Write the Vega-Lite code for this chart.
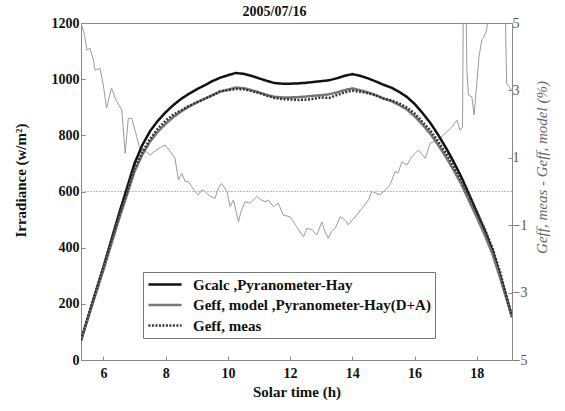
{
  "$schema": "https://vega.github.io/schema/vega-lite/v6.json",
  "autosize": {"type": "none"},
  "width": 431,
  "height": 337,
  "padding": {"left": 81, "top": 23, "right": 53, "bottom": 51},
  "background": "white",
  "title": {"text": "2005/07/16", "font": "Liberation Serif", "fontSize": 14, "fontWeight": "bold", "color": "#111", "offset": 8, "anchor": "middle", "frame": "group", "dx": -22, "dy": 11},
  "config": {
    "view": {"stroke": "#888", "strokeWidth": 1},
    "axis": {"labelFont": "Liberation Serif", "titleFont": "Liberation Serif", "grid": false, "domainColor": "#888", "tickColor": "#888"}
  },
  "datasets": {
    "irr": [
      {"h": 5.28, "calc": 70, "model": 69, "meas": 72},
      {"h": 5.5, "calc": 150, "model": 147, "meas": 153},
      {"h": 5.75, "calc": 240, "model": 234, "meas": 242},
      {"h": 6.0, "calc": 330, "model": 320, "meas": 330},
      {"h": 6.25, "calc": 425, "model": 411, "meas": 423},
      {"h": 6.5, "calc": 520, "model": 501, "meas": 514},
      {"h": 6.75, "calc": 610, "model": 586, "meas": 595},
      {"h": 7.0, "calc": 700, "model": 671, "meas": 684},
      {"h": 7.25, "calc": 765, "model": 731, "meas": 740},
      {"h": 7.5, "calc": 815, "model": 778, "meas": 787},
      {"h": 7.75, "calc": 852, "model": 813, "meas": 824},
      {"h": 8.0, "calc": 882, "model": 841, "meas": 852},
      {"h": 8.25, "calc": 908, "model": 865, "meas": 874},
      {"h": 8.5, "calc": 930, "model": 885, "meas": 889},
      {"h": 8.75, "calc": 948, "model": 902, "meas": 905},
      {"h": 9.0, "calc": 964, "model": 917, "meas": 917},
      {"h": 9.25, "calc": 978, "model": 930, "meas": 930},
      {"h": 9.5, "calc": 993, "model": 943, "meas": 942},
      {"h": 9.75, "calc": 1005, "model": 955, "meas": 957},
      {"h": 10.0, "calc": 1014, "model": 963, "meas": 961},
      {"h": 10.25, "calc": 1022, "model": 970, "meas": 965},
      {"h": 10.5, "calc": 1019, "model": 968, "meas": 964},
      {"h": 10.75, "calc": 1012, "model": 961, "meas": 958},
      {"h": 11.0, "calc": 1003, "model": 953, "meas": 951},
      {"h": 11.25, "calc": 994, "model": 944, "meas": 941},
      {"h": 11.5, "calc": 986, "model": 937, "meas": 933},
      {"h": 11.75, "calc": 984, "model": 935, "meas": 929},
      {"h": 12.0, "calc": 984, "model": 935, "meas": 928},
      {"h": 12.25, "calc": 985, "model": 936, "meas": 926},
      {"h": 12.5, "calc": 987, "model": 938, "meas": 927},
      {"h": 12.75, "calc": 990, "model": 941, "meas": 930},
      {"h": 13.0, "calc": 993, "model": 943, "meas": 935},
      {"h": 13.25, "calc": 996, "model": 946, "meas": 933},
      {"h": 13.5, "calc": 1003, "model": 953, "meas": 943},
      {"h": 13.75, "calc": 1012, "model": 961, "meas": 953},
      {"h": 14.0, "calc": 1018, "model": 967, "meas": 959},
      {"h": 14.25, "calc": 1012, "model": 961, "meas": 955},
      {"h": 14.5, "calc": 1003, "model": 953, "meas": 950},
      {"h": 14.75, "calc": 992, "model": 943, "meas": 943},
      {"h": 15.0, "calc": 980, "model": 931, "meas": 931},
      {"h": 15.25, "calc": 970, "model": 922, "meas": 924},
      {"h": 15.5, "calc": 955, "model": 908, "meas": 914},
      {"h": 15.75, "calc": 937, "model": 892, "meas": 899},
      {"h": 16.0, "calc": 912, "model": 868, "meas": 878},
      {"h": 16.25, "calc": 880, "model": 839, "meas": 848},
      {"h": 16.5, "calc": 845, "model": 806, "meas": 818},
      {"h": 16.75, "calc": 803, "model": 767, "meas": 779},
      {"h": 17.0, "calc": 757, "model": 724, "meas": 737},
      {"h": 17.25, "calc": 707, "model": 677, "meas": 691},
      {"h": 17.5, "calc": 652, "model": 626, "meas": 638},
      {"h": 17.75, "calc": 590, "model": 567, "meas": 583},
      {"h": 18.0, "calc": 527, "model": 508, "meas": 524},
      {"h": 18.25, "calc": 462, "model": 446, "meas": 467},
      {"h": 18.5, "calc": 390, "model": 378, "meas": 400},
      {"h": 18.75, "calc": 300, "model": 292, "meas": 312},
      {"h": 19.0, "calc": 205, "model": 200, "meas": 206},
      {"h": 19.13, "calc": 154, "model": 151, "meas": 156}
    ],
    "diff": [
      {"h": 5.28, "d": 5.0}, {"h": 5.38, "d": 4.7}, {"h": 5.47, "d": 4.2}, {"h": 5.57, "d": 4.25},
      {"h": 5.68, "d": 3.9}, {"h": 5.73, "d": 3.6}, {"h": 5.89, "d": 3.65}, {"h": 5.99, "d": 3.2},
      {"h": 6.1, "d": 2.47}, {"h": 6.26, "d": 3.07}, {"h": 6.4, "d": 2.72}, {"h": 6.48, "d": 2.6},
      {"h": 6.59, "d": 2.42}, {"h": 6.7, "d": 1.14}, {"h": 6.8, "d": 2.17}, {"h": 6.91, "d": 2.17},
      {"h": 7.07, "d": 1.63}, {"h": 7.18, "d": 1.23}, {"h": 7.34, "d": 1.2}, {"h": 7.5, "d": 1.08},
      {"h": 7.66, "d": 1.2}, {"h": 7.82, "d": 1.3}, {"h": 7.98, "d": 1.38}, {"h": 8.14, "d": 1.2},
      {"h": 8.3, "d": 0.99}, {"h": 8.41, "d": 0.34}, {"h": 8.52, "d": 0.54}, {"h": 8.63, "d": 0.29},
      {"h": 8.72, "d": 0.3}, {"h": 8.84, "d": 0.14}, {"h": 8.95, "d": 0.0}, {"h": 9.05, "d": -0.1},
      {"h": 9.17, "d": 0.05}, {"h": 9.27, "d": 0.0}, {"h": 9.43, "d": -0.15}, {"h": 9.59, "d": -0.2},
      {"h": 9.69, "d": 0.1}, {"h": 9.8, "d": 0.24}, {"h": 9.97, "d": 0.0}, {"h": 10.07, "d": -0.45},
      {"h": 10.18, "d": -0.25}, {"h": 10.34, "d": -0.9}, {"h": 10.42, "d": -0.6}, {"h": 10.55, "d": -0.3},
      {"h": 10.71, "d": -0.35}, {"h": 10.93, "d": -0.15}, {"h": 11.07, "d": -0.25}, {"h": 11.2, "d": -0.3},
      {"h": 11.3, "d": -0.25}, {"h": 11.46, "d": -0.45}, {"h": 11.62, "d": -0.35}, {"h": 11.78, "d": -0.7},
      {"h": 12.0, "d": -0.75}, {"h": 12.21, "d": -1.04}, {"h": 12.32, "d": -1.2}, {"h": 12.43, "d": -1.34},
      {"h": 12.54, "d": -1.09}, {"h": 12.7, "d": -1.14}, {"h": 12.86, "d": -1.29}, {"h": 13.02, "d": -0.9},
      {"h": 13.12, "d": -1.2}, {"h": 13.23, "d": -1.39}, {"h": 13.32, "d": -1.2}, {"h": 13.45, "d": -1.09},
      {"h": 13.61, "d": -0.75}, {"h": 13.7, "d": -0.8}, {"h": 13.82, "d": -0.9}, {"h": 13.87, "d": -0.99},
      {"h": 13.99, "d": -0.85}, {"h": 14.14, "d": -0.7}, {"h": 14.35, "d": -0.45}, {"h": 14.52, "d": -0.25},
      {"h": 14.62, "d": 0.0}, {"h": 14.76, "d": -0.05}, {"h": 14.89, "d": -0.1}, {"h": 15.05, "d": 0.04},
      {"h": 15.21, "d": 0.19}, {"h": 15.37, "d": 0.59}, {"h": 15.47, "d": 0.55}, {"h": 15.59, "d": 0.88},
      {"h": 15.75, "d": 0.79}, {"h": 15.91, "d": 1.03}, {"h": 16.12, "d": 1.23}, {"h": 16.34, "d": 0.99},
      {"h": 16.5, "d": 1.43}, {"h": 16.66, "d": 1.5}, {"h": 16.82, "d": 1.58}, {"h": 17.04, "d": 1.77},
      {"h": 17.2, "d": 1.92}, {"h": 17.36, "d": 2.12}, {"h": 17.46, "d": 1.82}, {"h": 17.54, "d": 1.9},
      {"h": 17.57, "d": 6.5}, {"h": 17.65, "d": 6.0}, {"h": 17.68, "d": 3.6}, {"h": 17.73, "d": 2.86},
      {"h": 17.84, "d": 2.81}, {"h": 17.91, "d": 2.27}, {"h": 18.0, "d": 3.21}, {"h": 18.07, "d": 4.0},
      {"h": 18.16, "d": 4.5}, {"h": 18.21, "d": 4.55}, {"h": 18.32, "d": 4.8}, {"h": 18.39, "d": 5.5},
      {"h": 18.59, "d": 7.0}, {"h": 18.75, "d": 7.0}, {"h": 18.91, "d": 6.5}, {"h": 18.93, "d": 4.5},
      {"h": 18.96, "d": 3.21}, {"h": 19.04, "d": 3.1}, {"h": 19.13, "d": 3.0}
    ]
  },
  "layer": [
    {
      "data": {"name": "diff"},
      "mark": {"type": "line", "clip": true, "color": "#9a9a9a", "strokeWidth": 1},
      "encoding": {
        "x": {"field": "h", "type": "quantitative", "scale": {"domain": [5.28, 19.13], "nice": false, "zero": false},
          "axis": {"orient": "bottom", "values": [6, 8, 10, 12, 14, 16, 18], "title": "Solar time  (h)", "labelFontSize": 14, "labelFontWeight": "bold", "labelColor": "#111", "titleFontSize": 15, "titleFontWeight": "bold", "titleColor": "#111", "tickSize": -4, "labelPadding": 10, "titlePadding": 4}},
        "y": {"field": "d", "type": "quantitative", "scale": {"domain": [-5, 5], "nice": false, "zero": false},
          "axis": {"orient": "right", "values": [-5, -3, -1, 1, 3, 5], "title": "Geff, meas - Geff, model  (%)", "labelFontSize": 14, "labelColor": "#555", "titleFontSize": 15, "titleFontStyle": "italic", "titleFontWeight": "normal", "titleColor": "#666", "titleAngle": 270, "titleX": 37, "titleY": 144, "tickSize": -4, "labelPadding": 4}}
      }
    },
    {
      "layer": [
        {
          "data": {"values": [{"v": 600}]},
          "mark": {"type": "rule", "color": "#bbbbbb", "strokeWidth": 1, "strokeDash": [2, 1]},
          "encoding": {"y": {"field": "v", "type": "quantitative"}}
        },
        {
          "data": {"name": "irr"},
          "transform": [{"fold": ["calc", "model", "meas"], "as": ["series", "v"]}],
          "mark": {"type": "line", "clip": true},
          "encoding": {
            "x": {"field": "h", "type": "quantitative"},
            "y": {"field": "v", "type": "quantitative"},
            "color": {"field": "series", "type": "nominal", "scale": {"domain": ["calc", "model", "meas"], "range": ["#111111", "#777777", "#333333"]},
              "legend": {"orient": "none", "legendX": 62, "legendY": 249, "title": null, "symbolType": "stroke", "symbolSize": 1100, "clipHeight": 17, "labelFont": "Liberation Serif", "labelFontSize": 15, "labelFontWeight": "bold", "labelColor": "#111", "labelOffset": 10, "labelLimit": 400, "rowPadding": 3.5, "padding": 4, "strokeColor": "#777", "fillColor": "white",
                "labelExpr": "datum.label == 'calc' ? 'Gcalc ,Pyranometer-Hay' : datum.label == 'model' ? 'Geff, model ,Pyranometer-Hay(D+A)' : 'Geff, meas'"}},
            "strokeDash": {"field": "series", "type": "nominal", "scale": {"domain": ["calc", "model", "meas"], "range": [[1, 0], [1, 0], [2, 1.5]]}},
            "strokeWidth": {"field": "series", "type": "nominal", "scale": {"domain": ["calc", "model", "meas"], "range": [2.5, 2.5, 1.5]}}
          }
        }
      ],
      "encoding": {
        "y": {"field": "v", "type": "quantitative", "scale": {"domain": [0, 1200], "nice": false},
          "axis": {"orient": "left", "values": [0, 200, 400, 600, 800, 1000, 1200], "format": "d", "title": "Irradiance (w/m²)", "labelFontSize": 14, "labelFontWeight": "bold", "labelColor": "#111", "titleFontSize": 15, "titleFontWeight": "bold", "titleColor": "#111", "titleX": -53, "titleY": 157, "tickSize": -4, "labelPadding": 6}}
      }
    }
  ],
  "resolve": {"scale": {"y": "independent"}}
}
